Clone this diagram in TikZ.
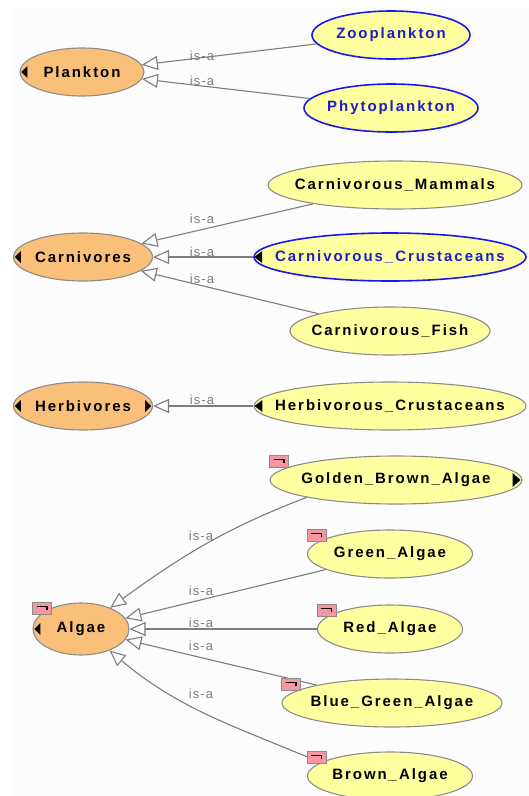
\documentclass[tikz,border=0pt]{standalone}
\usepackage{fontspec}
\setmainfont{Liberation Sans}
\newfontfamily\clsfont[LetterSpace=13]{Liberation Sans}
\newfontfamily\isafont[LetterSpace=8]{Liberation Sans}
\usetikzlibrary{shapes.geometric,arrows.meta}
\definecolor{parentfill}{RGB}{250,192,122}
\definecolor{childfill}{RGB}{255,255,160}
\definecolor{rimgray}{RGB}{140,140,140}
\definecolor{rimblue}{RGB}{25,25,235}
\definecolor{txtblue}{RGB}{30,30,200}
\definecolor{linkgray}{RGB}{125,125,125}
\definecolor{flagpink}{RGB}{245,150,160}
\newcommand{\cname}[1]{\makebox[0pt]{#1}}

\begin{document}
\begin{tikzpicture}[x=1pt,y=-1pt,
	cls/.style={ellipse, draw=rimgray, line width=1.1pt, inner sep=0pt, minimum height=48pt, minimum width=#1,
		font=\clsfont\bfseries\fontsize{15}{15}\selectfont},
	parent/.style={cls=#1, fill=parentfill},
	child/.style={cls=#1, fill=childfill},
	bluerim/.style={draw=rimblue, line width=1.6pt, text=txtblue},
	isa/.style={draw=linkgray, line width=1.1pt, -{Triangle[open, length=16pt, width=14pt]}},
	lbl/.style={text=linkgray, font=\isafont\fontsize{13}{13}\selectfont, inner sep=0pt},
	flag/.style={draw=rimgray, fill=flagpink, line width=0.8pt, anchor=north west, minimum width=19pt,
		minimum height=12pt, inner sep=0pt,
		path picture={\draw[black, line width=1.6pt]
			([shift={(4pt,-3.5pt)}]path picture bounding box.north west) -- ++(10pt,0pt) -- ++(0pt,-4pt);}}]
	\useasboundingbox (0,0) rectangle (529,796);
	\fill[black!1] (12,8) rectangle (529,796);

	% classes
	\node (plankton) at (82,72) [parent=124pt] {\cname{Plankton}};
	\node (zoo) at (391,35) [child=158pt, bluerim] {\cname{Zooplankton}};
	\node (phyto) at (391,108) [child=174pt, bluerim] {\cname{Phytoplankton}};

	\node (carnivores) at (83,257) [parent=139pt] {\cname{Carnivores}};
	\node (cmammals) at (395,185) [child=254pt] {\cname{Carnivorous\_Mammals}};
	\node (ccrust) at (390,257) [child=272pt, bluerim] {\cname{Carnivorous\_Crustaceans}};
	\node (cfish) at (390,331) [child=200pt] {\cname{Carnivorous\_Fish}};

	\node (herbivores) at (83,406) [parent=139pt] {\cname{Herbivores}};
	\node (hcrust) at (390,406) [child=272pt] {\cname{Herbivorous\_Crustaceans}};

	\node (algae) at (81,629) [parent=96pt, minimum height=52pt] {\cname{Algae}};
	\node (golden) at (396,480) [child=252pt] {\cname{Golden\_Brown\_Algae}};
	\node (green) at (390,554) [child=165pt] {\cname{Green\_Algae}};
	\node (red) at (390,629) [child=145pt] {\cname{Red\_Algae}};
	\node (bgreen) at (392,703) [child=220pt] {\cname{Blue\_Green\_Algae}};
	\node (brown) at (390,776) [child=165pt] {\cname{Brown\_Algae}};

	% expand markers
	\fill ([xshift=2pt]plankton.west) -- ++(6,-6) -- ++(0,12) -- cycle;
	\fill ([xshift=2pt]carnivores.west) -- ++(6,-6) -- ++(0,12) -- cycle;
	\fill ([xshift=2pt]herbivores.west) -- ++(6,-6) -- ++(0,12) -- cycle;
	\fill ([xshift=-2pt]herbivores.east) -- ++(-6,-6) -- ++(0,12) -- cycle;
	\fill ([xshift=1pt]ccrust.west) -- ++(8,-6) -- ++(0,12) -- cycle;
	\fill ([xshift=1pt]hcrust.west) -- ++(8,-6) -- ++(0,12) -- cycle;
	\fill ([xshift=-2pt]golden.east) -- ++(-8,-7) -- ++(0,14) -- cycle;
	\fill ([xshift=2pt]algae.west) -- ++(6,-6) -- ++(0,12) -- cycle;

	% is-a links
	\draw
	(zoo) edge[isa] (plankton)
	(phyto) edge[isa] (plankton)
	(cmammals) edge[isa] (carnivores)
	(ccrust) edge[isa] (carnivores)
	(cfish) edge[isa] (carnivores)
	(hcrust) edge[isa] (herbivores)
	(golden.191) edge[isa, out=201, in=36] (algae.36)
	(green) edge[isa] (algae)
	(red) edge[isa] (algae)
	(bgreen) edge[isa] (algae)
	(brown.169) edge[isa, out=157, in=320] (algae.323)
	;

	\node (lzoo) at (202,56) [lbl] {is-a};
	\node (lphyto) at (202,81) [lbl] {is-a};
	\node (lmammals) at (202,219) [lbl] {is-a};
	\node (lccrust) at (202,252) [lbl] {is-a};
	\node (lfish) at (202,279) [lbl] {is-a};
	\node (lhcrust) at (202,400) [lbl] {is-a};
	\node (lgolden) at (201,536) [lbl] {is-a};
	\node (lgreen) at (201,591) [lbl] {is-a};
	\node (lred) at (201,623) [lbl] {is-a};
	\node (lbgreen) at (201,646) [lbl] {is-a};
	\node (lbrown) at (201,694) [lbl] {is-a};

	% flags
	\node (algaeflag) at (algae.west |- algae.north) [flag] {};
	\node (goldenflag) at (golden.west |- golden.north) [flag] {};
	\node (greenflag) at (green.west |- green.north) [flag] {};
	\node (redflag) at (red.west |- red.north) [flag] {};
	\node (bgreenflag) at (bgreen.west |- bgreen.north) [flag] {};
	\node (brownflag) at (brown.west |- brown.north) [flag] {};
\end{tikzpicture}
\end{document}
